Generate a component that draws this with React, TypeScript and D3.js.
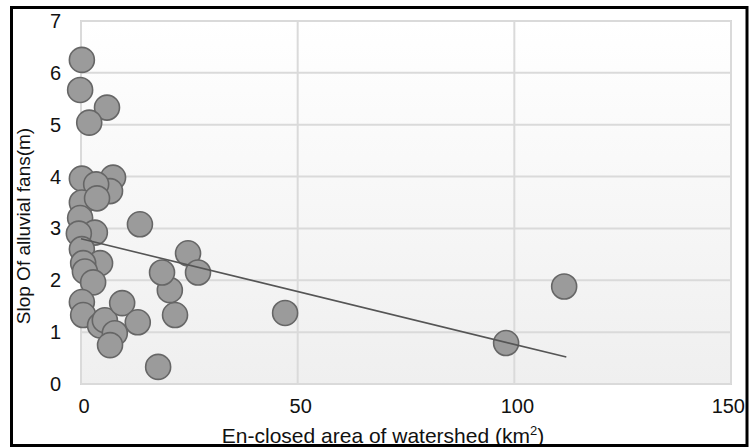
import { useEffect, useRef } from "react";
import * as d3 from "d3";

// Enclosed watershed area (km²) vs. alluvial fan slope (m)
const areaKm2 = [
  0.2, -0.2, 6.0, 1.9, 0.2, 7.4, 6.7, 3.5, 0.2, 3.7, -0.2, 13.6, 3.2, -0.5,
  0.2, 4.4, 0.5, 0.9, 2.8, 0.2, 0.5, 4.4, 5.5, 7.8, 6.7, 9.5, 13.1, 17.8,
  21.7, 20.5, 18.7, 24.7, 27.0, 47.1, 98.1, 111.5,
];
const fanSlope = [
  6.25, 5.67, 5.33, 5.04, 3.96, 3.98, 3.72, 3.85, 3.5, 3.58, 3.2, 3.08, 2.92,
  2.9, 2.6, 2.33, 2.33, 2.17, 1.96, 1.58, 1.33, 1.13, 1.23, 0.98, 0.75, 1.56,
  1.19, 0.33, 1.33, 1.81, 2.15, 2.52, 2.15, 1.37, 0.79, 1.88,
];
const trendX = [0, 112];
const trendY = [2.8, 0.52];
const xTicks = [0, 50, 100, 150];
const yTicks = [0, 1, 2, 3, 4, 5, 6, 7];

const W = 749;
const H = 447;
const FONT = "Liberation Sans, Arial, sans-serif";

export default function App() {
  const ref = useRef<SVGSVGElement | null>(null);

  useEffect(() => {
    if (!ref.current) return;
    const svg = d3.select(ref.current);
    svg.selectAll("*").remove();

    const m = { t: 21, r: 18, b: 63, l: 81 };
    const w = W - m.l - m.r;
    const h = H - m.t - m.b;

    const x = d3.scaleLinear().domain([0, 150]).range([0, w]);
    const y = d3.scaleLinear().domain([0, 7]).range([h, 0]);

    const defs = svg.append("defs");
    const grad = defs
      .append("linearGradient")
      .attr("id", "plotbg")
      .attr("x1", 0)
      .attr("y1", 0)
      .attr("x2", 0)
      .attr("y2", 1);
    grad.append("stop").attr("offset", "0%").attr("stop-color", "#ffffff");
    grad.append("stop").attr("offset", "100%").attr("stop-color", "#efefef");

    svg
      .append("rect")
      .attr("width", W)
      .attr("height", H)
      .attr("fill", "#ffffff");

    const g = svg.append("g").attr("transform", `translate(${m.l},${m.t})`);

    // ── Plot area & grid ─────────────────────────────────────────────────────

    g.append("rect")
      .attr("width", w)
      .attr("height", h)
      .attr("fill", "url(#plotbg)")
      .attr("stroke", "#d6d6d6")
      .attr("stroke-width", 2);

    g.selectAll("line.hgrid")
      .data(yTicks)
      .enter()
      .append("line")
      .attr("x1", 0)
      .attr("x2", w)
      .attr("y1", (d) => y(d))
      .attr("y2", (d) => y(d))
      .attr("stroke", "#dadada")
      .attr("stroke-width", 2);

    g.selectAll("line.vgrid")
      .data(xTicks)
      .enter()
      .append("line")
      .attr("x1", (d) => x(d))
      .attr("x2", (d) => x(d))
      .attr("y1", 0)
      .attr("y2", h)
      .attr("stroke", "#dadada")
      .attr("stroke-width", 2);

    // ── Points ───────────────────────────────────────────────────────────────

    const pts = areaKm2.map((a, i) => ({ a, s: fanSlope[i] }));
    g.selectAll("circle.pt")
      .data(pts)
      .enter()
      .append("circle")
      .attr("cx", (d) => x(d.a))
      .attr("cy", (d) => y(d.s))
      .attr("r", 12.5)
      .attr("fill", "#9b9b9b")
      .attr("stroke", "#666666")
      .attr("stroke-width", 1.6);

    // ── Trend line ───────────────────────────────────────────────────────────

    const line = d3
      .line<number>()
      .x((d) => x(d))
      .y((_, i) => y(trendY[i]));
    g.append("path")
      .attr("d", line(trendX))
      .attr("fill", "none")
      .attr("stroke", "#555555")
      .attr("stroke-width", 1.6);

    // ── Axes labels ──────────────────────────────────────────────────────────

    // the last tick label sits against the frame, as in the original
    const lastTick = xTicks[xTicks.length - 1];
    g.selectAll("text.xt")
      .data(xTicks)
      .enter()
      .append("text")
      .attr("x", (d) => (d === lastTick ? x(d) + 14 : x(d) + 3))
      .attr("y", h + 29)
      .attr("text-anchor", (d) => (d === lastTick ? "end" : "middle"))
      .attr("font-family", FONT)
      .attr("font-size", 20)
      .attr("fill", "#111")
      .text((d) => d);

    g.selectAll("text.yt")
      .data(yTicks)
      .enter()
      .append("text")
      .attr("x", -20)
      .attr("y", (d) => y(d) + 7)
      .attr("text-anchor", "end")
      .attr("font-family", FONT)
      .attr("font-size", 20)
      .attr("fill", "#111")
      .text((d) => d);

    const xt = svg
      .append("text")
      .attr("x", 383)
      .attr("y", 443)
      .attr("text-anchor", "middle")
      .attr("font-family", FONT)
      .attr("font-size", 21)
      .attr("fill", "#111");
    xt.append("tspan").text("En-closed area of watershed (km");
    xt.append("tspan").attr("font-size", 13).attr("dy", -8).text("2");
    xt.append("tspan").attr("dy", 8).text(")");

    svg
      .append("text")
      .attr("transform", `translate(30,226) rotate(-90)`)
      .attr("text-anchor", "middle")
      .attr("font-family", FONT)
      .attr("font-size", 19)
      .attr("fill", "#111")
      .text("Slop Of alluvial fans(m)");

    // ── Outer frame ──────────────────────────────────────────────────────────

    svg
      .append("rect")
      .attr("x", 11.5)
      .attr("y", 7.5)
      .attr("width", 735.5)
      .attr("height", 438)
      .attr("fill", "none")
      .attr("stroke", "#000")
      .attr("stroke-width", 3);
  }, []);

  return (
    <svg
      ref={ref}
      width={W}
      height={H}
      style={{ position: "absolute", left: 0, top: 0 }}
    />
  );
}
